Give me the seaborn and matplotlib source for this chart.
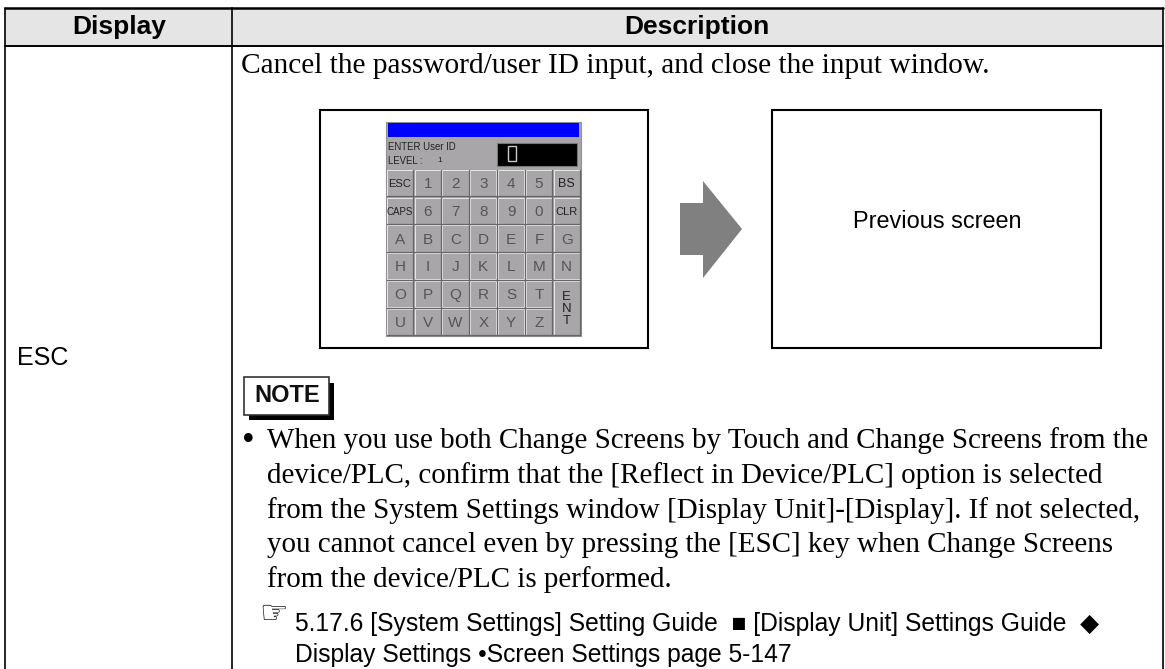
import matplotlib
matplotlib.use("Agg")
import matplotlib.pyplot as plt
from matplotlib.patches import Rectangle, Polygon
import seaborn as sns

headers = ["Display", "Description"]
row_label = "ESC"
intro = "Cancel the password/user ID input, and close the input window."
note_lines = [
    "When you use both Change Screens by Touch and Change Screens from the",
    "device/PLC, confirm that the [Reflect in Device/PLC] option is selected",
    "from the System Settings window [Display Unit]-[Display]. If not selected,",
    "you cannot cancel even by pressing the [ESC] key when Change Screens",
    "from the device/PLC is performed.",
]
ref_line1 = "5.17.6 [System Settings] Setting Guide  \u25a0 [Display Unit] Settings Guide  \u25c6"
ref_line2 = "Display Settings \u2022Screen Settings page 5-147"
prev_screen = "Previous screen"
key_rows = [
    ["ESC", "1", "2", "3", "4", "5", "BS"],
    ["CAPS", "6", "7", "8", "9", "0", "CLR"],
    ["A", "B", "C", "D", "E", "F", "G"],
    ["H", "I", "J", "K", "L", "M", "N"],
    ["O", "P", "Q", "R", "S", "T", "E\nN\nT"],
    ["U", "V", "W", "X", "Y", "Z", ""],
]

sns.set_theme(style="white")
plt.rcParams["font.family"] = ["Liberation Sans", "DejaVu Sans"]
SERIF = ["Liberation Serif", "DejaVu Serif"]

fig = plt.figure(figsize=(11.65, 6.69), dpi=100)
ax = fig.add_axes([0, 0, 1, 1])
ax.set_xlim(0, 1165)
ax.set_ylim(669, 0)
ax.axis("off")

BL = "#000000"
# table
ax.add_patch(Rectangle((5, 8), 1158, 38, fc="#e5e5e5", ec="none", zorder=0))
ax.plot([5, 1163], [8, 8], color=BL, lw=1.8)
ax.plot([5, 1163], [46, 46], color=BL, lw=1.4)
for x in (5, 232, 1163):
    ax.plot([x, x], [8, 669], color=BL, lw=1.2)
ax.text(119, 34, headers[0], ha="center", va="baseline", fontsize=19, fontweight="bold", color=BL)
ax.text(697, 34, headers[1], ha="center", va="baseline", fontsize=19, fontweight="bold", color=BL)
ax.text(17, 365, row_label, ha="left", va="baseline", fontsize=18, color=BL)
ax.text(241, 73, intro, ha="left", va="baseline", fontsize=21.2, family=SERIF, color=BL)

# screen boxes
ax.add_patch(Rectangle((320, 110), 328, 238, fc="white", ec=BL, lw=1.5))
ax.add_patch(Rectangle((772, 110), 329, 238, fc="white", ec=BL, lw=1.5))
ax.text(937, 228, prev_screen, ha="center", va="baseline", fontsize=16.9, color=BL)
# arrow
ax.add_patch(Polygon([(680, 203), (703, 203), (703, 181), (742, 229), (703, 278), (703, 255), (680, 255)],
                     fc="#808080", ec="none"))

# keypad
kx0, ky0, kw, kh = 386, 122, 27.8, 27.8
GREY = "#a8a6a8"
ax.add_patch(Rectangle((kx0, ky0), 195, 214, fc=GREY, ec="#909090", lw=0.8))
ax.add_patch(Rectangle((kx0 + 2, ky0 + 1), 191, 14, fc="#0000ff", ec="none"))
ax.add_patch(Rectangle((497, 143), 80, 23, fc="#000000", ec="#777777", lw=0.8))
ax.add_patch(Rectangle((508, 146), 8, 15, fc="#000000", ec="#cccccc", lw=1.0))
ax.text(388, 147, "ENTER User ID", ha="left", va="center", fontsize=6.9, color="#222222")
ax.text(388, 161, "LEVEL :", ha="left", va="center", fontsize=6.9, color="#222222")
ax.text(440, 161, "1", ha="center", va="center", fontsize=6, color="#222222")
ky = 169
for r, row in enumerate(key_rows):
    for c, label in enumerate(row):
        x = kx0 + c * kw
        y = ky + r * kh
        if label == "":
            continue
        h = kh * 2 if "\n" in label else kh
        ax.add_patch(Rectangle((x + 0.8, y + 0.8), kw - 1.6, h - 1.6, fc=GREY, ec="#e8e8e8", lw=0.7))
        ax.plot([x + 0.5, x + kw - 0.5, x + kw - 0.5], [y + h - 0.5, y + h - 0.5, y + 0.5], color="#666666", lw=0.9)
        fs = 7 if label == "CAPS" else 8 if len(label) == 3 else 9.5 if "\n" in label else 9 if label == "BS" else 11
        col = "#222222" if len(label) > 1 else "#555555"
        ax.text(x + kw / 2, y + h / 2 + 1, label, ha="center", va="center", fontsize=fs,
                color=col, linespacing=1.05)

# NOTE box
ax.add_patch(Rectangle((249, 383), 85, 37, fc=BL, ec="none"))
ax.add_patch(Rectangle((244, 377), 85, 38, fc="white", ec="#333333", lw=1.2))
ax.text(287, 402, "NOTE", ha="center", va="baseline", fontsize=17, fontweight="bold", color="#111111")

note_base = [448, 483, 518, 552, 587]
ax.text(242, 450, "\u2022", ha="left", va="baseline", fontsize=26, family=SERIF, color=BL)
for b, line in zip(note_base, note_lines):
    ax.text(267, b, line, ha="left", va="baseline", fontsize=20.85, family=SERIF, color=BL)

ax.text(259, 622, "\u261e", ha="left", va="baseline", fontsize=23, family="DejaVu Sans", color=BL)
ax.text(295, 631, ref_line1, ha="left", va="baseline", fontsize=17.75, color=BL)
ax.text(295, 662, ref_line2, ha="left", va="baseline", fontsize=17.75, color=BL)

fig.savefig("out.png", dpi=100, facecolor="white")
